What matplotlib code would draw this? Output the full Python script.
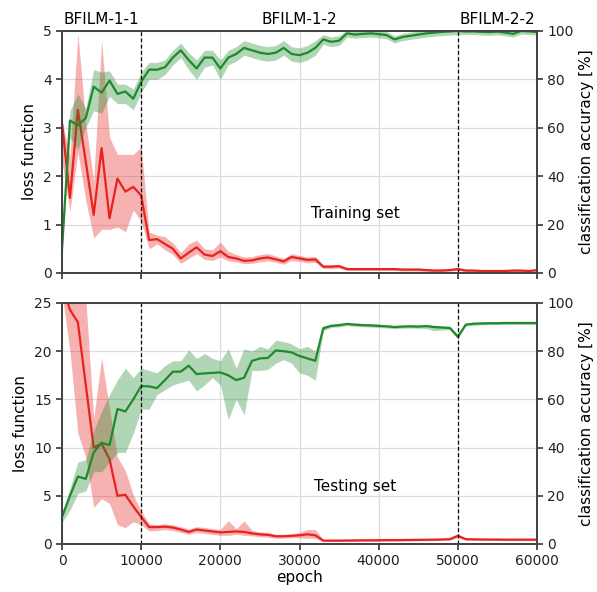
import matplotlib
matplotlib.use("Agg")
import matplotlib.pyplot as plt
import matplotlib.transforms as mtransforms
import numpy as np

# epochs sampled every 1000 steps
epochs = list(range(0, 61000, 1000))

# ---- training set ----
train_loss = [
    3.1, 1.55, 3.37, 2.3, 1.2, 2.58, 1.13, 1.95, 1.68, 1.78,
    1.6, 0.68, 0.7, 0.6, 0.5, 0.3, 0.42, 0.53, 0.38, 0.35,
    0.45, 0.33, 0.3, 0.25, 0.26, 0.3, 0.32, 0.28, 0.24, 0.33,
    0.3, 0.27, 0.28, 0.13, 0.13, 0.14, 0.08, 0.08, 0.08, 0.08,
    0.08, 0.08, 0.08, 0.07, 0.07, 0.07, 0.06, 0.05, 0.05, 0.06,
    0.08, 0.05, 0.05, 0.04, 0.04, 0.04, 0.04, 0.05, 0.05, 0.04,
    0.06,
]
train_loss_lo = [
    2.3, 1.27, 2.5, 1.5, 0.72, 0.9, 0.9, 0.95, 0.85, 1.3,
    1.07, 0.5, 0.6, 0.48, 0.38, 0.2, 0.3, 0.4, 0.28, 0.26,
    0.33, 0.25, 0.23, 0.19, 0.2, 0.23, 0.25, 0.22, 0.18, 0.26,
    0.24, 0.21, 0.22, 0.09, 0.09, 0.1, 0.05, 0.05, 0.05, 0.05,
    0.05, 0.05, 0.05, 0.04, 0.04, 0.04, 0.03, 0.03, 0.03, 0.04,
    0.05, 0.03, 0.03, 0.02, 0.02, 0.02, 0.02, 0.03, 0.03, 0.02,
    0.04,
]
train_loss_hi = [
    3.15, 2.4, 4.95, 3.1, 1.9, 4.8, 2.8, 2.45, 2.45, 2.45,
    2.6, 0.85, 0.78, 0.75, 0.62, 0.42, 0.6, 0.68, 0.5, 0.48,
    0.64, 0.45, 0.38, 0.33, 0.34, 0.38, 0.4, 0.35, 0.3, 0.4,
    0.36, 0.33, 0.34, 0.17, 0.17, 0.18, 0.11, 0.11, 0.11, 0.11,
    0.11, 0.11, 0.11, 0.1, 0.1, 0.1, 0.09, 0.08, 0.08, 0.09,
    0.11, 0.08, 0.07, 0.06, 0.06, 0.06, 0.06, 0.07, 0.07, 0.06,
    0.08,
]
train_acc = [
    10, 63, 61, 64, 77, 74.5, 79.5, 74, 75, 72,
    79, 84, 84, 85, 89, 92, 88, 84.5, 89, 89,
    84.5, 89, 90.5, 93, 92, 91, 90.5, 91, 93, 90.5,
    90, 91, 93, 96.5, 95.5, 96, 99, 98.5, 98.8, 99,
    98.7, 98.3, 96.5, 97.5, 98, 98.5, 99, 99.3, 99.6, 99.8,
    100, 99.8, 99.8, 99.6, 99.5, 99.7, 99.3, 98.8, 100, 99.8,
    99.6,
]
train_acc_lo = [
    8, 56, 51, 60, 67, 66, 73, 70, 70, 67.5,
    74.5, 80, 80, 82, 86, 89, 84, 80, 85, 86,
    80, 86, 87.5, 90, 89, 88, 87.5, 88, 90, 87.5,
    87, 88, 90, 94.5, 93.5, 94, 97.5, 97, 97.3, 97.5,
    97.2, 96.8, 95, 96, 96.5, 97, 97.5, 97.8, 98.1, 98.3,
    98.5, 98.5, 98.5, 98.3, 98.2, 98.4, 98, 97.5, 98.7, 98.5,
    98.3,
]
train_acc_hi = [
    12, 67, 74, 68, 84, 83, 83.5, 78, 78, 76,
    83, 87, 87, 88, 92, 95, 91, 88, 92, 92,
    88, 92, 93.5, 96, 95, 94, 93.5, 94, 96, 93.5,
    93, 94, 96, 98.5, 97.5, 98, 100.5, 100, 100.3, 100.5,
    100.2, 99.8, 98, 99, 99.5, 100, 100.5, 100.8, 101, 101,
    101, 101, 101, 101, 100.8, 101, 100.6, 100.1, 101, 101,
    101,
]

# ---- testing set ----
test_loss = [
    27, 24.3, 23, 16.5, 10, 10.4, 8.8, 5, 5.1, 3.9,
    2.8, 1.75, 1.75, 1.8, 1.7, 1.5, 1.25, 1.5, 1.4, 1.3,
    1.2, 1.25, 1.3, 1.25, 1.1, 1.0, 0.95, 0.8, 0.8, 0.85,
    0.9, 1.0, 0.9, 0.35, 0.35, 0.35, 0.36, 0.37, 0.38, 0.38,
    0.39, 0.4, 0.4, 0.41, 0.42, 0.43, 0.44, 0.45, 0.47, 0.5,
    0.85, 0.5, 0.48, 0.47, 0.46, 0.46, 0.45, 0.45, 0.45, 0.45,
    0.45,
]
test_loss_lo = [
    26, 20, 11.5, 9, 3.8, 4.7, 4.2, 2.0, 1.7, 2.3,
    2.0, 1.35, 1.4, 1.5, 1.4, 1.2, 1.0, 1.2, 1.1, 1.0,
    0.9, 0.9, 1.0, 0.9, 0.85, 0.75, 0.7, 0.6, 0.6, 0.65,
    0.65, 0.6, 0.6, 0.25, 0.25, 0.25, 0.26, 0.27, 0.28, 0.28,
    0.29, 0.3, 0.3, 0.31, 0.32, 0.33, 0.34, 0.35, 0.37, 0.4,
    0.65, 0.4, 0.38, 0.37, 0.36, 0.36, 0.35, 0.35, 0.35, 0.35,
    0.35,
]
test_loss_hi = [
    29, 28, 27, 25.5, 13, 19.3, 14, 9, 7.6, 5.1,
    3.4, 2.1, 2.0, 2.1, 2.0, 1.8, 1.55, 1.8, 1.7, 1.6,
    1.5, 2.4, 1.6, 2.4, 1.4, 1.25, 1.2, 1.0, 1.0, 1.05,
    1.2, 1.5, 1.5, 0.45, 0.45, 0.45, 0.46, 0.47, 0.48, 0.48,
    0.49, 0.5, 0.5, 0.51, 0.52, 0.53, 0.54, 0.55, 0.57, 0.6,
    1.05, 0.6, 0.58, 0.57, 0.56, 0.56, 0.55, 0.55, 0.55, 0.55,
    0.55,
]
test_acc = [
    11.2, 20, 28, 27, 38, 42, 41, 56, 55, 60,
    65.5, 65.4, 64.7, 68, 71.5, 71.5, 74, 70.5, 70.8, 71,
    71.2, 70, 68, 69, 76, 77, 77.2, 80.3, 80, 79.5,
    78, 77, 76, 89.5, 90.5, 90.8, 91.3, 91, 90.8, 90.7,
    90.5, 90.3, 90, 90.2, 90.3, 90.2, 90.4, 90, 89.8, 89.6,
    86, 91, 91.4, 91.5, 91.6, 91.6, 91.7, 91.7, 91.7, 91.7,
    91.7,
]
test_acc_lo = [
    9, 14, 21, 22, 30, 30, 34, 38, 38, 46,
    56, 56, 62, 64, 66, 67, 68, 63.5, 66, 69,
    66, 51.6, 60, 53.6, 72, 72, 72.5, 75, 76.5, 75,
    71, 70, 68, 88.5, 89.8, 90.1, 90.6, 90.3, 90.1, 90,
    89.8, 89.6, 89.3, 89.5, 89.6, 89.5, 89.4, 88.5, 88.8, 88.9,
    85, 90.4, 90.8, 90.9, 91, 91, 91.1, 91.1, 91.1, 91.1,
    91.1,
]
test_acc_hi = [
    13, 23, 34, 35, 47, 55, 62, 68, 73, 69,
    73, 72, 71, 74, 76, 76, 80.5, 77, 79, 77,
    76, 81, 73, 81, 80, 82, 81, 84.5, 84, 83,
    81, 82, 80, 90.5, 91.2, 91.5, 92, 91.7, 91.5, 91.4,
    91.2, 91, 90.7, 90.9, 91, 90.9, 91.2, 90.8, 90.6, 90.3,
    87, 91.6, 92, 92.1, 92.2, 92.2, 92.3, 92.3, 92.3, 92.3,
    92.3,
]

phase_bounds = [10000, 50000]
phase_names = ["BFILM-1-1", "BFILM-1-2", "BFILM-2-2"]
phase_centers = [5000, 30000, 55000]

RED = "#e8231f"
GREEN = "#1e8a2c"
SPINE = "#444444"


def style_axis(ax):
    for sp in ax.spines.values():
        sp.set_color(SPINE)
        sp.set_linewidth(1.3)
    ax.tick_params(colors="#222222", labelsize=10, width=1.1, length=4)


def draw_panel(ax, loss, loss_lo, loss_hi, acc, acc_lo, acc_hi, loss_max, label, label_y):
    ax.fill_between(epochs, loss_lo, loss_hi, color=RED, alpha=0.35, lw=0)
    ax.plot(epochs, loss, color=RED, lw=1.6)
    ax.set_xlim(0, 60000)
    ax.set_ylim(0, loss_max)
    ax.set_ylabel("loss function", fontsize=11)
    ax.grid(True, color="#dddddd", lw=0.9)
    ax.set_axisbelow(True)
    ax.set_xticks(range(0, 60001, 10000))
    style_axis(ax)

    ax2 = ax.twinx()
    ax2.fill_between(epochs, acc_lo, acc_hi, color=GREEN, alpha=0.35, lw=0)
    ax2.plot(epochs, acc, color=GREEN, lw=1.6)
    ax2.set_ylim(0, 100)
    ax2.set_yticks(range(0, 101, 20))
    ax2.set_ylabel("classification accuracy [%]", fontsize=11)
    style_axis(ax2)

    for xb in phase_bounds:
        ax2.axvline(xb, color="black", lw=0.9, ls=(0, (3, 2)))

    ax.text(37000, label_y, label, fontsize=11, ha="center", va="center", zorder=5)
    return ax2


fig = plt.figure(figsize=(5.97, 5.92), dpi=100)
ax_top = fig.add_axes([0.1039, 0.5389, 0.7956, 0.4088])
ax_bot = fig.add_axes([0.1039, 0.0811, 0.7956, 0.4071])

draw_panel(ax_top, train_loss, train_loss_lo, train_loss_hi,
           train_acc, train_acc_lo, train_acc_hi, 5, "Training set", 1.22)
ax_top.set_yticks(range(0, 6))
ax_top.tick_params(labelbottom=False)

draw_panel(ax_bot, test_loss, test_loss_lo, test_loss_hi,
           test_acc, test_acc_lo, test_acc_hi, 25, "Testing set", 6.0)
ax_bot.set_yticks(range(0, 26, 5))
ax_bot.set_xlabel("epoch", fontsize=11, labelpad=1)

trans = mtransforms.blended_transform_factory(ax_top.transData, ax_top.transAxes)
for xc, name in zip(phase_centers, phase_names):
    ax_top.text(xc, 1.015, name, transform=trans, ha="center", va="bottom", fontsize=11)

fig.savefig("out.png", dpi=100)
